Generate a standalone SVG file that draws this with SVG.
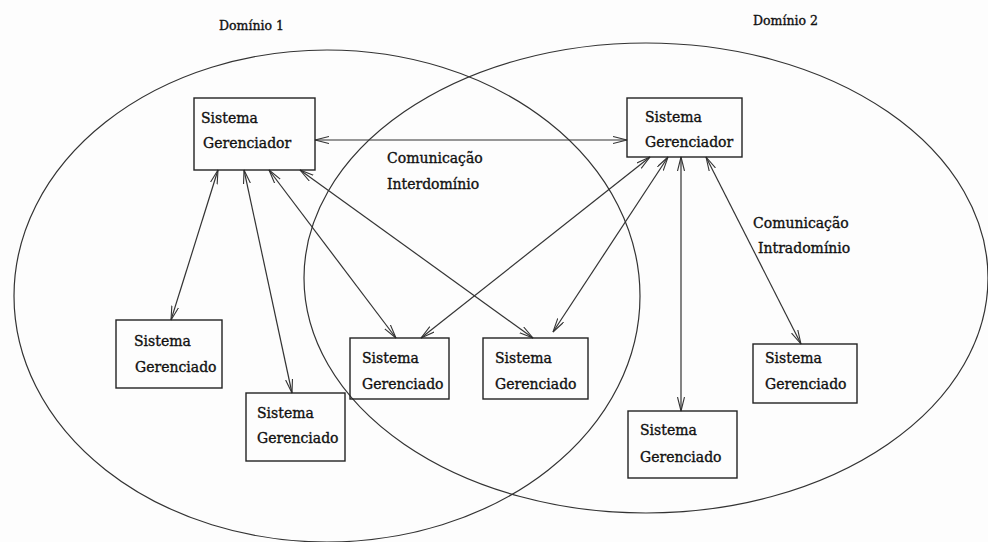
<svg xmlns="http://www.w3.org/2000/svg" width="988" height="542" viewBox="0 0 988 542">
  <style>
    .bg { fill: #fdfdfd; }
    .dom { fill: none; stroke: #333; stroke-width: 1.2; }
    .box { fill: none; stroke: #222; stroke-width: 1.4; }
    .conn { stroke: #333; stroke-width: 1.2; fill: none; marker-start: url(#ah); marker-end: url(#ah); }
    text { font-family: "DejaVu Serif", "Liberation Serif", serif; font-size: 14px; fill: #111; stroke: #111; stroke-width: 0.35; }
    .lbl { font-size: 12.5px; }
  </style>
  <defs>
    <marker id="ah" markerUnits="userSpaceOnUse" markerWidth="16" markerHeight="10" refX="14" refY="4" orient="auto-start-reverse">
      <path d="M0,0.5 L14,4 L0,7.5" fill="none" stroke="#333" stroke-width="1.1"/>
    </marker>
  </defs>

  <rect class="bg" x="0" y="0" width="988" height="542"/>

  <!-- management domains -->
  <g id="dominio1">
    <ellipse class="dom" cx="327" cy="296" rx="313" ry="246"/>
    <text class="lbl" x="219" y="30">Domínio 1</text>
  </g>
  <g id="dominio2">
    <ellipse class="dom" cx="646" cy="278" rx="342" ry="235"/>
    <text class="lbl" x="753" y="25">Domínio 2</text>
  </g>

  <!-- connectors -->
  <g id="connectors">
    <line class="conn" x1="315" y1="140" x2="627" y2="140"/>
    <line class="conn" x1="218" y1="170" x2="171" y2="320"/>
    <line class="conn" x1="244" y1="170" x2="292" y2="393"/>
    <line class="conn" x1="269" y1="170" x2="396" y2="338"/>
    <line class="conn" x1="300" y1="170" x2="533" y2="338"/>
    <line class="conn" x1="650" y1="157" x2="421" y2="338"/>
    <line class="conn" x1="668" y1="157" x2="553" y2="332"/>
    <line class="conn" x1="681" y1="157" x2="681" y2="411"/>
    <line class="conn" x1="706" y1="157" x2="801" y2="344"/>
    <text x="387" y="163">Comunicação</text>
    <text x="387" y="189">Interdomínio</text>
    <text x="753" y="228">Comunicação</text>
    <text x="758" y="253">Intradomínio</text>
  </g>

  <!-- managers -->
  <g id="gerenciador1">
    <rect class="box" x="194" y="98" width="121" height="72"/>
    <text x="201" y="123">Sistema</text>
    <text x="203" y="148">Gerenciador</text>
  </g>
  <g id="gerenciador2">
    <rect class="box" x="627" y="98" width="115" height="59"/>
    <text x="645" y="122">Sistema</text>
    <text x="645" y="147">Gerenciador</text>
  </g>

  <!-- managed systems -->
  <g id="gerenciadoA">
    <rect class="box" x="116" y="320" width="106" height="68"/>
    <text x="134" y="346">Sistema</text>
    <text x="135" y="372">Gerenciado</text>
  </g>
  <g id="gerenciadoB">
    <rect class="box" x="246" y="393" width="99" height="68"/>
    <text x="257" y="418">Sistema</text>
    <text x="257" y="443">Gerenciado</text>
  </g>
  <g id="gerenciadoC">
    <rect class="box" x="350" y="338" width="99" height="61"/>
    <text x="362" y="363">Sistema</text>
    <text x="362" y="389">Gerenciado</text>
  </g>
  <g id="gerenciadoD">
    <rect class="box" x="483" y="338" width="105" height="61"/>
    <text x="495" y="363">Sistema</text>
    <text x="495" y="389">Gerenciado</text>
  </g>
  <g id="gerenciadoE">
    <rect class="box" x="628" y="411" width="109" height="67"/>
    <text x="640" y="435">Sistema</text>
    <text x="640" y="462">Gerenciado</text>
  </g>
  <g id="gerenciadoF">
    <rect class="box" x="753" y="344" width="104" height="59"/>
    <text x="765" y="363">Sistema</text>
    <text x="765" y="389">Gerenciado</text>
  </g>
</svg>
